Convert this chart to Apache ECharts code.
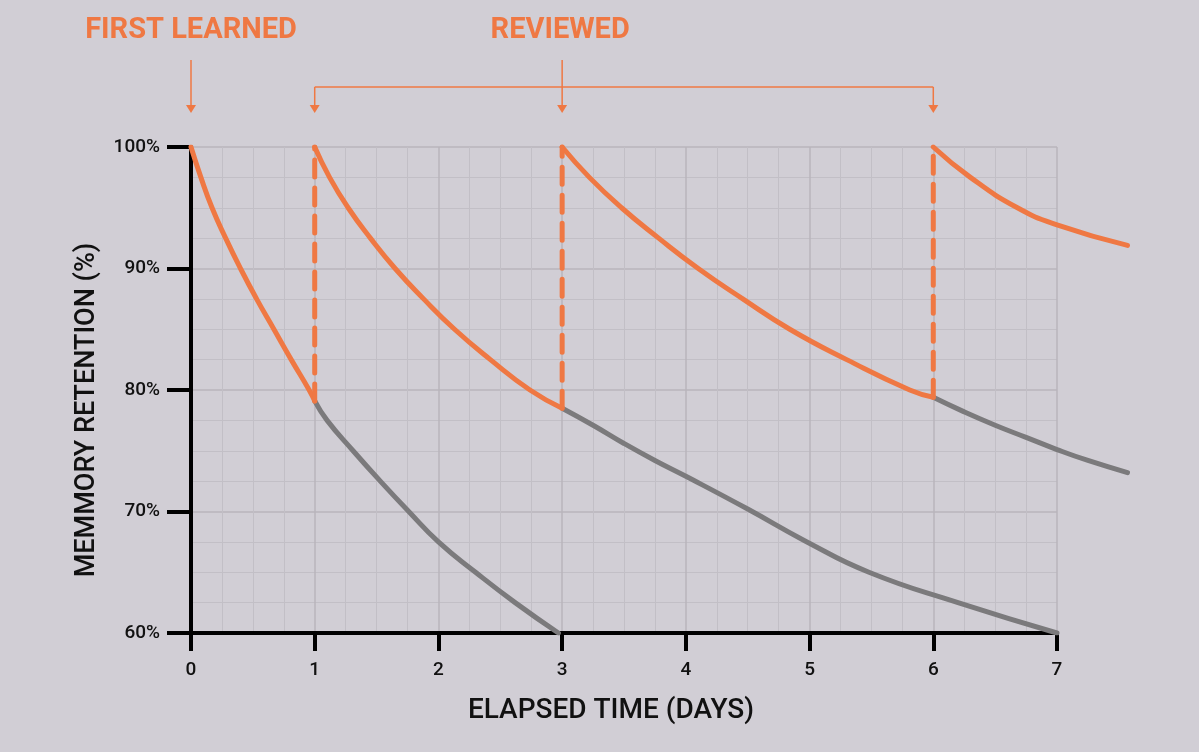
<!DOCTYPE html>
<html>
<head>
<meta charset="utf-8">
<title>Forgetting curve</title>
<script src="https://cdn.jsdelivr.net/npm/echarts@6/dist/echarts.min.js"></script>
<style>
  html, body { margin: 0; padding: 0; background: #d1ced5; }
  #main { width: 1199px; height: 752px; }
</style>
</head>
<body>
<div id="main"></div>
<script>
// values: [elapsed days, retention %]
var firstLearned = [[0,100],[0.08,97.5],[0.17,95],[0.28,92.5],[0.40,90],[0.53,87.5],[0.67,85],[0.81,82.5],[0.955,80],[1,79.1]];
var fade1 = [[1,79.1],[1.1,77.5],[1.31,75],[1.53,72.5],[1.76,70],[2.0,67.5],[2.3,65],[2.62,62.5],[2.97,60]];
var review1 = [[1,100],[1.12,97.5],[1.27,95],[1.45,92.5],[1.65,90],[1.88,87.5],[2.13,85],[2.42,82.5],[2.74,80],[3,78.5]];
var fade2 = [[3,78.5],[3.25,77.1],[3.5,75.6],[3.75,74.2],[4,72.9],[4.5,70.2],[4.96,67.6],[5.48,65],[6.2,62.5],[7,60]];
var review2 = [[3,100],[3.22,97.5],[3.48,95],[3.78,92.5],[4.10,90],[4.46,87.5],[4.84,85],[5.30,82.5],[5.81,80],[6,79.4]];
var fade3 = [[6,79.4],[6.25,78.2],[6.5,77.1],[6.75,76.1],[7,75.1],[7.25,74.2],[7.57,73.2]];
var review3 = [[6,100],[6.30,97.5],[6.68,95],[7,93.6],[7.57,91.9]];
var reviewDays = [1, 3, 6];
var reviewDrops = [79.1, 78.5, 79.4];
var xTicksMax = 7;     // last labelled day
var xDataMax = 7.6;    // curves run a little past the last tick

var ORANGE = '#ef7843';
var GREY = '#7b7a7c';
var FONT = 'Roboto';

var chart = echarts.init(document.getElementById('main'));

var plotLeft = 191, plotTop = 147, plotW = 866, plotH = 486;
var dayPx = plotW / xTicksMax;

function curve(data, color) {
  return {
    type: 'line', xAxisIndex: 1, yAxisIndex: 1, data: data,
    smooth: 0.5, symbol: 'none',
    lineStyle: { color: color, width: 5, cap: 'round', join: 'round' }, z: color === ORANGE ? 4 : 3
  };
}

var series = [
  curve(fade1, GREY), curve(fade2, GREY), curve(fade3, GREY),
  curve(firstLearned, ORANGE), curve(review1, ORANGE), curve(review2, ORANGE), curve(review3, ORANGE)
];
reviewDays.forEach(function (d, i) {
  series.push({
    type: 'line', xAxisIndex: 1, yAxisIndex: 1, data: [[d, reviewDrops[i]], [d, 100]], symbol: 'none', z: 5,
    lineStyle: { color: ORANGE, width: 5, type: [17, 11], cap: 'round' }
  });
});

var split = { show: true, lineStyle: { color: '#b8b5bb', width: 1.5 } };
var minorSplit = { show: true, lineStyle: { color: '#c2bfc6', width: 1 } };
var black = { color: '#000', width: 4 };
var labelFont = { fontFamily: FONT, fontWeight: 500, fontSize: 19, color: '#111' };
var nameFont = { fontFamily: FONT, fontWeight: 500, fontSize: 28, color: '#111' };

chart.setOption({
  backgroundColor: '#d1ced5',
  animation: false,
  grid: [
    { left: plotLeft, top: plotTop, width: plotW, height: plotH },
    { left: plotLeft, top: plotTop, width: dayPx * xDataMax, height: plotH }
  ],
  xAxis: [{
    type: 'value', gridIndex: 0, min: 0, max: xTicksMax, interval: 1,
    name: 'ELAPSED TIME (DAYS)', nameLocation: 'middle', nameGap: 64,
    nameTextStyle: Object.assign({ padding: [0, 26, 0, 0] }, nameFont),
    axisLine: { show: true, lineStyle: black },
    axisTick: { show: true, length: 18, lineStyle: black },
    axisLabel: Object.assign({ margin: 28 }, labelFont),
    splitLine: split, minorSplitLine: minorSplit,
    minorTick: { show: false, splitNumber: 4 }
  }, {
    type: 'value', gridIndex: 1, min: 0, max: xDataMax, show: false
  }],
  yAxis: [{
    type: 'value', gridIndex: 0, min: 60, max: 100, interval: 10,
    name: 'MEMMORY RETENTION (%)', nameLocation: 'middle', nameGap: 90, nameRotate: 90,
    nameTextStyle: Object.assign({ padding: [0, 0, 0, -40] }, nameFont, { fontSize: 27 }),
    axisLine: { show: true, lineStyle: black },
    axisTick: { show: true, length: 24, lineStyle: black },
    axisLabel: Object.assign({ margin: 31, formatter: '{value}%' }, labelFont),
    splitLine: split, minorSplitLine: minorSplit,
    minorTick: { show: false, splitNumber: 4 }
  }, {
    type: 'value', gridIndex: 1, min: 60, max: 100, show: false
  }],
  series: series
});

// annotations above the plot, placed from axis values
function px(t) { return chart.convertToPixel({ xAxisIndex: 1, yAxisIndex: 1 }, [t, 100])[0]; }
function arrow(x, yTop) {
  return [
    { type: 'line', shape: { x1: x, y1: yTop, x2: x, y2: 106 }, style: { stroke: ORANGE, lineWidth: 1.5 } },
    { type: 'polygon', shape: { points: [[x - 5, 105], [x + 5, 105], [x, 113]] }, style: { fill: ORANGE } }
  ];
}
var x0 = px(0), x1 = px(reviewDays[0]), x3 = px(reviewDays[1]), x6 = px(reviewDays[2]);
var titleFont = 'bold 29px ' + FONT;
var g = [];
g.push({ type: 'text', x: x0, y: 31, style: { text: 'FIRST LEARNED', fill: ORANGE, font: titleFont, align: 'center', verticalAlign: 'middle' } });
g.push({ type: 'text', x: x3 - 2, y: 31, style: { text: 'REVIEWED', fill: ORANGE, font: titleFont, align: 'center', verticalAlign: 'middle' } });
g = g.concat(arrow(x0, 60), arrow(x3, 60), arrow(x1, 87), arrow(x6, 87));
g.push({ type: 'line', shape: { x1: x1, y1: 87, x2: x6, y2: 87 }, style: { stroke: ORANGE, lineWidth: 1.5 } });
chart.setOption({ graphic: g });
</script>
</body>
</html>
